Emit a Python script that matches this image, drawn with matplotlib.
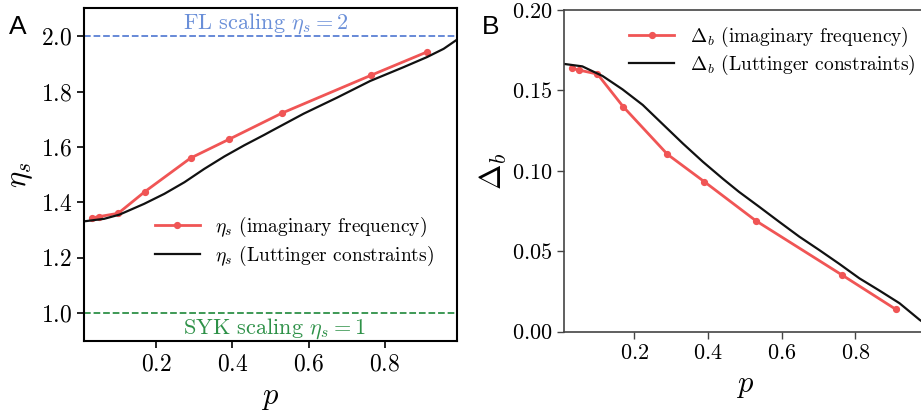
import matplotlib
matplotlib.use("Agg")
import matplotlib.pyplot as plt

plt.rcParams['font.family'] = ['cmr10', 'DejaVu Sans']
plt.rcParams['mathtext.fontset'] = 'cm'
plt.rcParams['axes.unicode_minus'] = False

# imaginary-frequency points (same p for both panels)
p_imag = [0.03, 0.05, 0.10, 0.17, 0.29, 0.39, 0.53, 0.765, 0.91]
eta_imag = [1.344, 1.349, 1.361, 1.439, 1.560, 1.627, 1.722, 1.859, 1.942]
delta_imag = [0.1638, 0.1627, 0.1602, 0.1399, 0.1103, 0.0933, 0.0690, 0.0351, 0.0139]

# Luttinger constraint curves
p_lut_a = [0.011, 0.063, 0.103, 0.168, 0.221, 0.274, 0.326, 0.379, 0.431,
           0.484, 0.50, 0.587, 0.675, 0.762, 0.850, 0.911, 0.955, 0.99]
eta_lut = [1.332, 1.341, 1.356, 1.395, 1.431, 1.473, 1.521, 1.566, 1.606,
           1.644, 1.656, 1.720, 1.778, 1.838, 1.888, 1.924, 1.954, 1.987]

p_lut_b = [0.01, 0.059, 0.114, 0.168, 0.223, 0.277, 0.332, 0.386, 0.441,
           0.484, 0.539, 0.593, 0.648, 0.702, 0.757, 0.811, 0.866, 0.920,
           0.975, 0.99]
delta_lut = [0.1665, 0.1650, 0.1590, 0.1507, 0.1410, 0.1291, 0.1170, 0.1057,
             0.0950, 0.0870, 0.0777, 0.0684, 0.0591, 0.0508, 0.0421, 0.0332,
             0.0255, 0.0177, 0.0073, 0.0050]

xticks = [0.2, 0.4, 0.6, 0.8]
xticklabels = ['0.2', '0.4', '0.6', '0.8']
yticks_a = [1.0, 1.2, 1.4, 1.6, 1.8, 2.0]
yticklabels_a = ['1.0', '1.2', '1.4', '1.6', '1.8', '2.0']
yticks_b = [0.0, 0.05, 0.10, 0.15, 0.20]
yticklabels_b = ['0.00', '0.05', '0.10', '0.15', '0.20']


def m(labels):
    return ['$' + s + '$' for s in labels]


red = '#f05555'
fs_leg = 14

fig = plt.figure(figsize=(9.21, 4.15), dpi=100)

# ---- A ----
ax1 = fig.add_axes([0.0912, 0.178, 0.405, 0.802])
ax1.axhline(2.0, color='#5b80d4', ls='--', lw=1.3)
ax1.axhline(1.0, color='#2e9148', ls='--', lw=1.3)
ax1.plot(p_imag, eta_imag, '-o', color=red, lw=2.0, ms=4.2,
         label=r'$\eta_s$ (imaginary frequency)')
ax1.plot(p_lut_a, eta_lut, color='#111111', lw=1.6,
         label=r'$\eta_s$ (Luttinger constraints)')
ax1.text(0.27, 2.046, r'FL scaling $\eta_s = 2$', color='#6a8fd8',
         fontsize=16, ha='left', va='center')
ax1.text(0.27, 0.945, r'SYK scaling $\eta_s = 1$', color='#2e9148',
         fontsize=16, ha='left', va='center')
ax1.set_xlim(0.01, 0.99)
ax1.set_ylim(0.9, 2.1)
ax1.set_xticks(xticks)
ax1.set_xticklabels(m(xticklabels))
ax1.set_yticks(yticks_a)
ax1.set_yticklabels(m(yticklabels_a))
ax1.tick_params(labelsize=17, length=5, width=1.2)
for s in ax1.spines.values():
    s.set_linewidth(1.5)
ax1.set_xlabel(r'$p$', fontsize=22, labelpad=7)
ax1.set_ylabel(r'$\eta_s$', fontsize=22, labelpad=4)
ax1.legend(loc='upper left', bbox_to_anchor=(0.19, 0.38), frameon=False,
           fontsize=fs_leg, borderpad=0, borderaxespad=0, handlelength=2.3,
           handletextpad=0.8, labelspacing=0.25)
fig.text(0.010, 0.965, 'A', family='Liberation Sans', fontsize=19, va='top')

# ---- B ----
ax2 = fig.add_axes([0.6127, 0.2007, 0.392, 0.775])
ax2.plot(p_imag, delta_imag, '-o', color=red, lw=2.0, ms=4.2,
         label=r'$\Delta_b$ (imaginary frequency)')
ax2.plot(p_lut_b, delta_lut, color='#111111', lw=1.6,
         label=r'$\Delta_b$ (Luttinger constraints)')
ax2.set_xlim(0.01, 0.99)
ax2.set_ylim(0.0, 0.20)
ax2.set_xticks(xticks)
ax2.set_xticklabels(m(xticklabels))
ax2.set_yticks(yticks_b)
ax2.set_yticklabels(m(yticklabels_b))
ax2.tick_params(labelsize=16, length=5, width=1.0, color='#444444')
for s in ax2.spines.values():
    s.set_linewidth(1.2)
    s.set_color('#444444')
ax2.set_xlabel(r'$p$', fontsize=22, labelpad=7)
ax2.set_ylabel(r'$\Delta_b$', fontsize=22, labelpad=2)
ax2.legend(loc='upper left', bbox_to_anchor=(0.18, 0.955), frameon=False,
           fontsize=fs_leg, borderpad=0, borderaxespad=0, handlelength=2.3,
           handletextpad=0.8, labelspacing=0.2)
fig.text(0.523, 0.965, 'B', family='Liberation Sans', fontsize=19, va='top')

fig.savefig('out.png', dpi=100)
